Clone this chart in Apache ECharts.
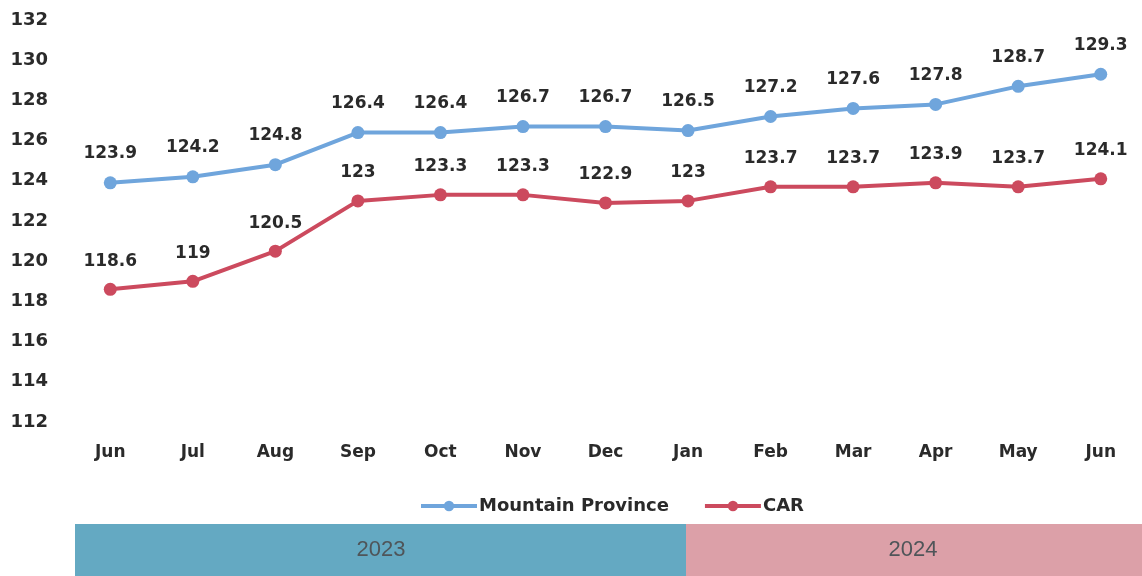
<!DOCTYPE html>
<html><head><meta charset="utf-8">
<script src="https://cdn.jsdelivr.net/npm/echarts@6/dist/echarts.min.js"></script>
<style>html,body{margin:0;padding:0;background:#fff}#c{width:1142px;height:576px}</style>
</head><body><div id="c"></div>
<script>
const categories = ['Jun','Jul','Aug','Sep','Oct','Nov','Dec','Jan','Feb','Mar','Apr','May','Jun'];
const mountainProvince = [123.9,124.2,124.8,126.4,126.4,126.7,126.7,126.5,127.2,127.6,127.8,128.7,129.3];
const car = [118.6,119,120.5,123,123.3,123.3,122.9,123,123.7,123.7,123.9,123.7,124.1];
const years = ['2023','2024'];

const chart = echarts.init(document.getElementById('c'));
const font = '"DejaVu Sans", "Liberation Sans", Arial, sans-serif';
const lbl = {show:true, position:'top', distance:13, fontFamily:font, fontWeight:'bold', fontSize:17, color:'#2a2a2a'};
chart.setOption({
  animation:false,
  textStyle:{fontFamily:font},
  grid:{left:69, right:0, top:20, bottom:154},
  legend:{
    bottom:56, left:414, itemWidth:56, itemHeight:13, itemGap:34,
    lineStyle:{width:4},
    textStyle:{fontFamily:font, fontWeight:'bold', fontSize:18, color:'#2a2a2a', padding:[0,0,0,-3]},
    data:['Mountain Province','CAR']
  },
  xAxis:{
    type:'category', data:categories, boundaryGap:true,
    axisLine:{show:false}, axisTick:{show:false},
    axisLabel:{margin:22, fontFamily:font, fontWeight:'bold', fontSize:17, color:'#2a2a2a'}
  },
  yAxis:{
    type:'value', min:112, max:132, interval:2,
    splitLine:{show:false}, axisLine:{show:false}, axisTick:{show:false},
    axisLabel:{margin:21, fontFamily:font, fontWeight:'bold', fontSize:18, color:'#2a2a2a'}
  },
  series:[
    {name:'Mountain Province', type:'line', data:mountainProvince, symbol:'circle', symbolSize:13,
     lineStyle:{width:4, color:'#6fa5dc'}, itemStyle:{color:'#6fa5dc'}, label:Object.assign({}, lbl, {distance:14})},
    {name:'CAR', type:'line', data:car, symbol:'circle', symbolSize:13,
     lineStyle:{width:4, color:'#cc4a5e'}, itemStyle:{color:'#cc4a5e'}, label:lbl}
  ],
  graphic:[
    {type:'rect', shape:{x:75, y:524, width:611, height:52}, style:{fill:'#64a9c2'}},
    {type:'rect', shape:{x:686, y:524, width:456, height:52}, style:{fill:'#dca0a8'}},
    {type:'text', x:381, y:550, style:{text:years[0], fill:'#4f5559', font:'22px "Liberation Sans Narrow", "Liberation Sans", Arial', textAlign:'center', textVerticalAlign:'middle'}},
    {type:'text', x:913, y:550, style:{text:years[1], fill:'#4f5559', font:'22px "Liberation Sans Narrow", "Liberation Sans", Arial', textAlign:'center', textVerticalAlign:'middle'}}
  ]
});
</script></body></html>
